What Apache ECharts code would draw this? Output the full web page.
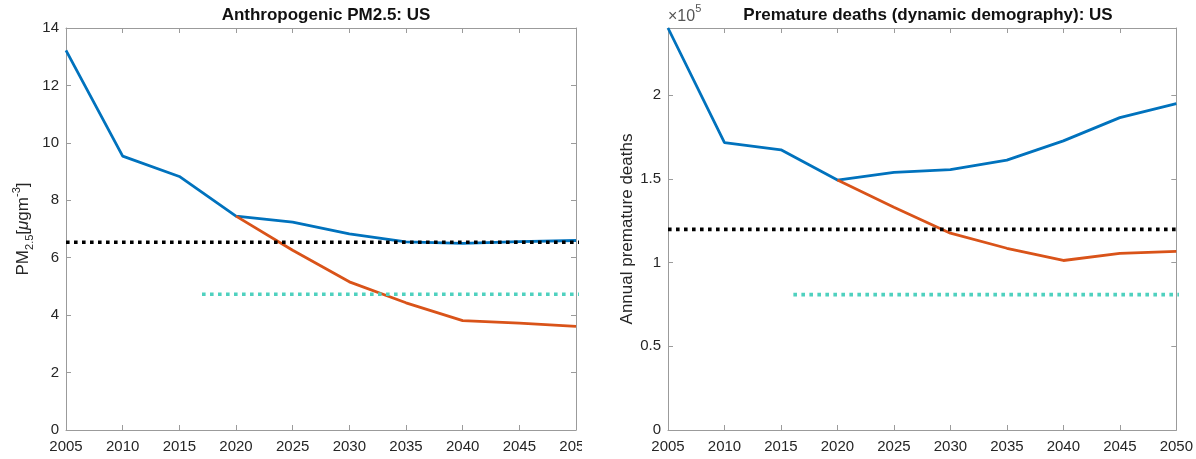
<!DOCTYPE html>
<html>
<head>
<meta charset="utf-8">
<script src="https://cdn.jsdelivr.net/npm/echarts@6/dist/echarts.min.js"></script>
<style>
  html, body { margin: 0; padding: 0; background: #ffffff; }
  #wrap { position: relative; width: 1196px; height: 459px; overflow: hidden; }
  #leftClip { position: absolute; left: 0; top: 0; width: 582px; height: 459px; overflow: hidden; }
  #left { position: absolute; left: 0; top: 0; width: 600px; height: 459px; }
  #right { position: absolute; left: 598px; top: 0; width: 598px; height: 459px; }
</style>
</head>
<body>
<div id="wrap">
  <div id="leftClip"><div id="left"></div></div>
  <div id="right"></div>
</div>
<script>
// Years on the horizontal axis
const years = [2005, 2010, 2015, 2020, 2025, 2030, 2035, 2040, 2045, 2050];
const policyYears = [2020, 2025, 2030, 2035, 2040, 2045, 2050];
const xTicks = [2005, 2010, 2015, 2020, 2025, 2030, 2035, 2040, 2045, 2050];

// Anthropogenic PM2.5 (μg m^-3)
const pmBaseline = [13.22, 9.54, 8.83, 7.45, 7.24, 6.83, 6.55, 6.5, 6.56, 6.6];
const pmPolicy = [7.45, 6.26, 5.16, 4.43, 3.81, 3.72, 3.61];
const pmReferenceLevel = 6.54;
const pmTargetLevel = 4.73;
const pmTargetStart = 2017;
const pmTicks = [0, 2, 4, 6, 8, 10, 12, 14];

// Annual premature deaths
const deathsBaseline = [240000, 171600, 167300, 149200, 153800, 155400, 161100, 172600, 186500, 194800];
const deathsPolicy = [149200, 133000, 117500, 108500, 101200, 105500, 106700];
const deathsReferenceLevel = 119800;
const deathsTargetLevel = 80800;
const deathsTargetStart = 2016.1;
const deathsTicks = [0, 50000, 100000, 150000, 200000];

// Horizontal reference lines run slightly past the last year
const refLineEnd = 2050.6;

const FONT = '"Liberation Sans", Arial, Helvetica, sans-serif';
const AXIS_GREY = '#9b9b9b';
const LABEL_GREY = '#262626';
const BLUE = '#0072BD';
const ORANGE = '#D95319';
const TEAL = '#4FD1BF';

function pairs(xs, ys) { return xs.map((x, i) => [x, ys[i]]); }

function boxAxis(base, position, showLabel) {
  return Object.assign({
    type: 'value',
    position: position,
    gridIndex: 0,
    axisLine: { show: true, onZero: false, lineStyle: { color: AXIS_GREY, width: 1 } },
    axisTick: { show: true, inside: true, length: 5, lineStyle: { color: AXIS_GREY, width: 1 } },
    splitLine: { show: false },
    axisLabel: { show: showLabel }
  }, base);
}

function buildOption(cfg) {
  const xBase = { min: xTicks[0], max: xTicks[xTicks.length - 1], interval: 5 };
  const yBase = { min: cfg.yMin, max: cfg.yMax, interval: cfg.yInterval };
  const xBottom = boxAxis(xBase, 'bottom', true);
  xBottom.axisLabel = {
    show: true, color: LABEL_GREY, fontSize: 15, fontFamily: FONT, margin: 9,
    showMinLabel: true, showMaxLabel: true,
    formatter: v => String(v)
  };
  const xTop = boxAxis(xBase, 'top', false);
  const yLeft = boxAxis(yBase, 'left', true);
  yLeft.axisLabel = {
    show: true, color: LABEL_GREY, fontSize: 15, fontFamily: FONT, margin: 7,
    showMaxLabel: cfg.showMaxY,
    formatter: cfg.yFormatter
  };
  yLeft.name = cfg.yName;
  yLeft.nameLocation = 'middle';
  yLeft.nameGap = cfg.yNameGap;
  yLeft.nameRotate = 90;
  yLeft.nameMoveOverlap = false;
  yLeft.nameTextStyle = cfg.yNameStyle;
  const yRight = boxAxis(yBase, 'right', false);

  const lineSeries = (data, color) => ({
    type: 'line', data: data, showSymbol: false, symbol: 'none',
    lineStyle: { color: color, width: 2.8 }, z: 3, animation: false
  });
  const dotSeries = (data, color) => ({
    type: 'line', data: data, showSymbol: false, symbol: 'none', clip: false,
    lineStyle: { color: color, width: 3.6, type: [3.6, 4.4], cap: 'butt' }, z: 4, animation: false
  });

  return {
    animation: false,
    backgroundColor: '#ffffff',
    title: {
      text: cfg.title, left: cfg.titleCenter, top: 2, textAlign: 'center',
      textStyle: { fontFamily: FONT, fontSize: 17, fontWeight: 'bold', color: '#111111' }
    },
    grid: { left: cfg.gridLeft, top: 28, width: 510, height: 402, containLabel: false },
    xAxis: [xBottom, xTop],
    yAxis: [yLeft, yRight],
    series: [
      lineSeries(pairs(years, cfg.baseline), BLUE),
      lineSeries(pairs(policyYears, cfg.policy), ORANGE),
      dotSeries([[xTicks[0], cfg.refLevel], [refLineEnd, cfg.refLevel]], '#000000'),
      dotSeries([[cfg.targetStart, cfg.targetLevel], [refLineEnd, cfg.targetLevel]], TEAL)
    ],
    graphic: cfg.graphic || []
  };
}

const leftChart = echarts.init(document.getElementById('left'), null, { renderer: 'canvas' });
leftChart.setOption(buildOption({
  title: 'Anthropogenic PM2.5: US',
  titleCenter: 321,
  gridLeft: 66,
  yMin: pmTicks[0], yMax: pmTicks[pmTicks.length - 1], yInterval: 2,
  showMaxY: true,
  yFormatter: v => String(v),
  yName: '{n|PM}{s|2.5}{n|[}{m|μ}{n|gm}{p|-3}{n|]}',
  yNameGap: 31,
  yNameStyle: {
    color: LABEL_GREY, fontFamily: FONT,
    rich: {
      n: { fontSize: 17, lineHeight: 24, verticalAlign: 'middle', color: LABEL_GREY, fontFamily: FONT },
      m: { fontSize: 17, lineHeight: 24, verticalAlign: 'middle', fontStyle: 'italic', color: LABEL_GREY, fontFamily: FONT },
      s: { fontSize: 11, lineHeight: 24, verticalAlign: 'bottom', color: LABEL_GREY, fontFamily: FONT },
      p: { fontSize: 11, lineHeight: 24, verticalAlign: 'top', color: LABEL_GREY, fontFamily: FONT }
    }
  },
  baseline: pmBaseline,
  policy: pmPolicy,
  refLevel: pmReferenceLevel,
  targetLevel: pmTargetLevel,
  targetStart: pmTargetStart
}));

const rightChart = echarts.init(document.getElementById('right'), null, { renderer: 'canvas' });
rightChart.setOption(buildOption({
  title: 'Premature deaths (dynamic demography): US',
  titleCenter: 325,
  gridLeft: 70,
  yMin: deathsTicks[0], yMax: 240000, yInterval: 50000,
  showMaxY: false,
  yFormatter: v => String(v / 100000),
  yName: 'Annual premature deaths',
  yNameGap: 32,
  yNameStyle: { color: LABEL_GREY, fontFamily: FONT, fontSize: 17 },
  baseline: deathsBaseline,
  policy: deathsPolicy,
  refLevel: deathsReferenceLevel,
  targetLevel: deathsTargetLevel,
  targetStart: deathsTargetStart,
  graphic: [{
    type: 'text', left: 70, top: 3,
    style: {
      text: '{a|×10}{b|5}',
      rich: {
        a: { fontSize: 16, lineHeight: 22, verticalAlign: 'bottom', fill: '#555555', fontFamily: FONT },
        b: { fontSize: 11, lineHeight: 22, verticalAlign: 'top', fill: '#555555', fontFamily: FONT }
      }
    }
  }]
}));
</script>
</body>
</html>
